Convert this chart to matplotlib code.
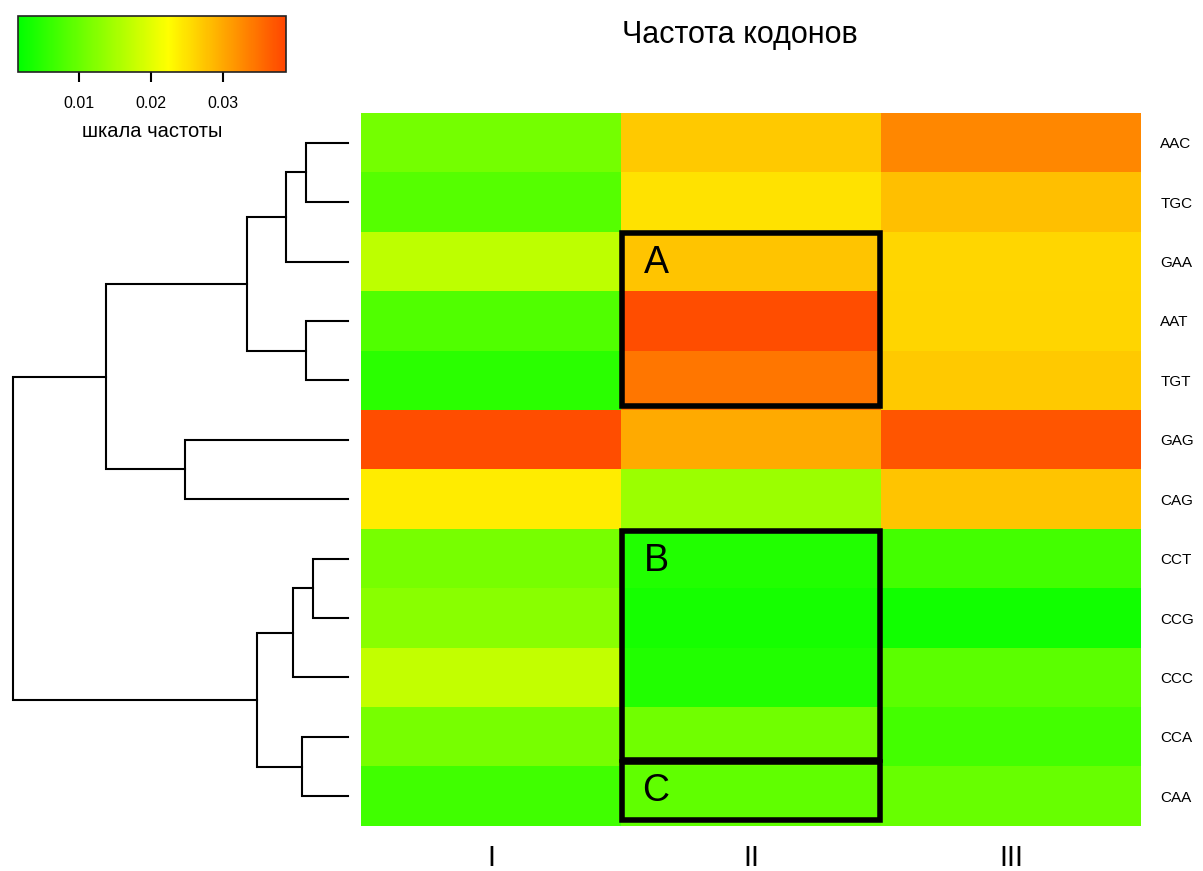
import numpy as np
import matplotlib
matplotlib.use('Agg')
import matplotlib.pyplot as plt
from matplotlib.colors import LinearSegmentedColormap
from matplotlib.patches import Rectangle

plt.rcParams['font.family'] = ['Liberation Sans', 'DejaVu Sans']

# data
codons = ['AAC', 'TGC', 'GAA', 'AAT', 'TGT', 'GAG', 'CAG',
          'CCT', 'CCG', 'CCC', 'CCA', 'CAA']
samples = ['I', 'II', 'III']
freq_I = [0.011, 0.0086, 0.017, 0.0082, 0.005, 0.038, 0.024,
          0.0113, 0.0128, 0.0174, 0.0113, 0.0068]
freq_II = [0.027, 0.0249, 0.0275, 0.038, 0.0344, 0.0298, 0.0142,
           0.0043, 0.0033, 0.0043, 0.0107, 0.0094]
freq_III = [0.0329, 0.028, 0.0259, 0.026, 0.027, 0.0373, 0.0275,
            0.0071, 0.003, 0.009, 0.0071, 0.010]

# hclust-style merge table: negative = leaf (1-based), positive = earlier merge
merge = [(-1, -2, 42), (1, -3, 62), (-4, -5, 42), (2, 3, 101),
         (-6, -7, 163), (4, 5, 242), (-8, -9, 35), (7, -10, 55),
         (-11, -12, 46), (8, 9, 91), (6, 10, 335)]

# highlighted boxes: (label, first row, last row) in row units
boxes = [('A', 2.02, 4.93), ('B', 7.04, 10.89), ('C', 10.93, 11.90)]

vmin, vmax = 0.0015, 0.0388
cmap = LinearSegmentedColormap.from_list(
    'gyr', [(0.0, '#00ff00'), (0.56, '#ffff00'), (1.0, '#ff4500')])

W, H = 1203, 871
fig = plt.figure(figsize=(W / 100, H / 100), dpi=100)

hm_left, hm_right, hm_top, hm_bot = 361, 1141, 113, 826
ax = fig.add_axes([hm_left / W, 1 - hm_bot / H,
                   (hm_right - hm_left) / W, (hm_bot - hm_top) / H])
vals = np.column_stack([freq_I, freq_II, freq_III])
ax.imshow(vals, cmap=cmap, vmin=vmin, vmax=vmax, aspect='auto',
          interpolation='nearest', extent=[0, 3, 12, 0])
ax.set_xlim(0, 3)
ax.set_ylim(12, 0)
for s in ax.spines.values():
    s.set_visible(False)
ax.yaxis.tick_right()
ax.set_yticks(np.arange(len(codons)) + 0.5)
ax.set_yticklabels(codons, fontsize=11)
ax.set_xticks(np.arange(len(samples)) + 0.5)
ax.set_xticklabels(samples, fontsize=21)
ax.tick_params(axis='y', length=0, pad=14)
ax.tick_params(axis='x', length=0, pad=13)

for lab, r0, r1 in boxes:
    ax.add_patch(Rectangle((1.005, r0), 0.99, r1 - r0, fill=False,
                           lw=4, ec='black', clip_on=False))
    ax.text(1.135, r0 + 0.5 if lab != 'C' else (r0 + r1) / 2, lab,
            fontsize=27, ha='center', va='center')

# dendrogram
dax = fig.add_axes([0, 1 - hm_bot / H, hm_left / W, (hm_bot - hm_top) / H])
dax.set_xlim(348, -13)
dax.set_ylim(12, 0)
dax.axis('off')
node_y, node_h = {}, {}
for i, (a, b, h) in enumerate(merge, start=1):
    ys, hs = [], []
    for c in (a, b):
        if c < 0:
            ys.append(-c - 0.5)
            hs.append(0)
        else:
            ys.append(node_y[c])
            hs.append(node_h[c])
    dax.plot([hs[0], h, h, hs[1]], [ys[0], ys[0], ys[1], ys[1]],
             color='black', lw=1.5, solid_joinstyle='miter')
    node_y[i] = (ys[0] + ys[1]) / 2
    node_h[i] = h

# colour key
cax = fig.add_axes([18 / W, 1 - 72 / H, 268 / W, 56 / H])
sm = plt.cm.ScalarMappable(cmap=cmap, norm=plt.Normalize(vmin, vmax))
cb = fig.colorbar(sm, cax=cax, orientation='horizontal', ticks=[0.01, 0.02, 0.03])
cb.ax.set_xticklabels(['0.01', '0.02', '0.03'])
cb.ax.tick_params(labelsize=11.5, length=7, width=1.5, pad=10)
cb.outline.set_linewidth(1.2)
cb.outline.set_edgecolor('#222222')
cb.set_label('шкала частоты', fontsize=14.5, labelpad=8)

fig.text(740 / W, 1 - 35 / H, 'Частота кодонов', fontsize=22,
         ha='center', va='center')

fig.savefig('out.png', dpi=100)
